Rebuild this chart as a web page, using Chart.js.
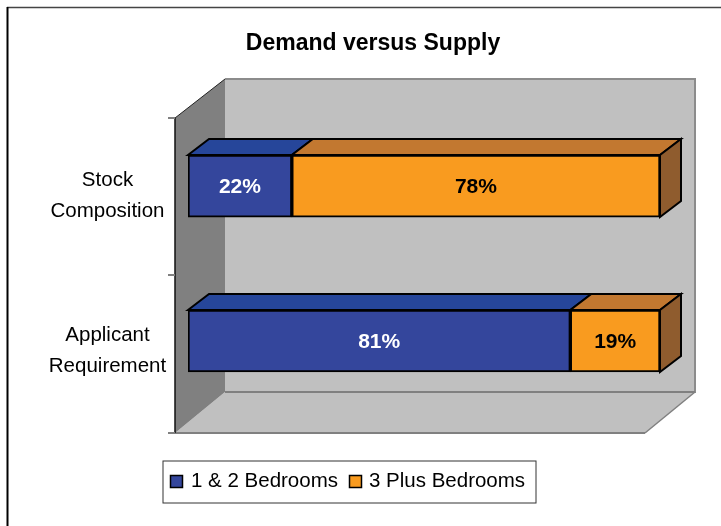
<!DOCTYPE html>
<html>
<head>
<meta charset="utf-8">
<style>
  html, body { margin: 0; padding: 0; background: #fff; }
  canvas { display: block; }
</style>
<script src="https://cdn.jsdelivr.net/npm/chart.js@4/dist/chart.umd.min.js"></script>
</head>
<body>
<canvas id="demandChart" width="721" height="526"></canvas>
<script>
const categories = [['Stock', 'Composition'], ['Applicant', 'Requirement']];
const smallBedrooms = [22, 81];
const largeBedrooms = [78, 19];
const seriesNames = ['1 & 2 Bedrooms', '3 Plus Bedrooms'];
const chartTitle = 'Demand versus Supply';

const FONT = '"Liberation Sans", Arial, sans-serif';
const DEPTH_X = 21, DEPTH_Y = 16;

function poly(ctx, pts, fill, stroke, lw) {
  ctx.beginPath();
  pts.forEach((p, i) => i ? ctx.lineTo(p[0], p[1]) : ctx.moveTo(p[0], p[1]));
  ctx.closePath();
  if (fill) { ctx.fillStyle = fill; ctx.fill(); }
  if (stroke) { ctx.strokeStyle = stroke; ctx.lineWidth = lw; ctx.stroke(); }
}

function line(ctx, x1, y1, x2, y2, color, lw) {
  ctx.beginPath();
  ctx.moveTo(x1, y1);
  ctx.lineTo(x2, y2);
  ctx.strokeStyle = color;
  ctx.lineWidth = lw;
  ctx.stroke();
}

// Walls, floor and the outer frame, behind the bars
const wallsPlugin = {
  id: 'walls',
  beforeDatasetsDraw(chart) {
    const ctx = chart.ctx;
    ctx.save();
    line(ctx, 7, 7.5, 721, 7.5, '#444444', 1.5);
    line(ctx, 7.5, 7, 7.5, 526, '#000000', 2);

    poly(ctx, [[225, 79], [695, 79], [695, 392], [225, 392]], '#c0c0c0');
    poly(ctx, [[175, 433], [225, 392], [695, 392], [645, 433]], '#c0c0c0');
    poly(ctx, [[175, 118], [225, 79], [225, 392], [175, 433]], '#808080');

    line(ctx, 225, 79, 695, 79, '#8c8c8c', 2);
    line(ctx, 695, 78, 695, 393, '#8c8c8c', 2);
    line(ctx, 225, 392, 695, 392, '#808080', 2);
    line(ctx, 175, 433, 645, 433, '#808080', 2);
    line(ctx, 645, 433, 695, 392, '#808080', 1.5);
    line(ctx, 175, 118, 225, 79, '#222222', 1);
    line(ctx, 175, 118, 175, 433, '#111111', 1.5);
    [118, 275, 433].forEach(y => line(ctx, 168, y, 175, y, '#808080', 2));

    // top and end faces of the bars
    const tops = ['#26469a', '#c27830'];
    chart.data.datasets.forEach((ds, i) => {
      chart.getDatasetMeta(i).data.forEach(bar => {
        const t = bar.y - bar.height / 2, b = bar.y + bar.height / 2;
        poly(ctx, [[bar.base, t], [bar.base + DEPTH_X, t - DEPTH_Y], [bar.x + DEPTH_X, t - DEPTH_Y], [bar.x, t]],
          tops[i], '#000000', 2);
        if (i === chart.data.datasets.length - 1) {
          poly(ctx, [[bar.x, t], [bar.x + DEPTH_X, t - DEPTH_Y], [bar.x + DEPTH_X, b - DEPTH_Y], [bar.x, b]],
            '#8f5c2e', '#000000', 2);
        }
      });
    });
    ctx.restore();
  },
  afterDatasetsDraw(chart) {
    const ctx = chart.ctx;
    ctx.save();
    ctx.textBaseline = 'middle';
    ctx.textAlign = 'center';

    // data labels
    ctx.font = 'bold 21px ' + FONT;
    chart.data.datasets.forEach((ds, i) => {
      chart.getDatasetMeta(i).data.forEach((bar, j) => {
        ctx.fillStyle = i === 0 ? '#ffffff' : '#000000';
        ctx.fillText(ds.data[j] + '%', (bar.base + bar.x) / 2, bar.y + 1);
      });
    });

    // category labels sit on the front plane, a little below the bars
    ctx.font = '20.5px ' + FONT;
    ctx.fillStyle = '#000000';
    const yScale = chart.scales.y;
    categories.forEach((lines, i) => {
      const cy = yScale.getPixelForTick(i) + 10;
      lines.forEach((txt, k) => ctx.fillText(txt, 107.5, cy + (k - 0.5) * 30.5));
    });

    // legend box
    ctx.fillStyle = '#ffffff';
    ctx.fillRect(163, 461, 373, 42);
    ctx.strokeStyle = '#333333';
    ctx.lineWidth = 1;
    ctx.strokeRect(163, 461, 373, 42);
    ctx.textAlign = 'left';
    [[170.5, 191], [349.5, 369]].forEach((pos, i) => {
      ctx.fillStyle = chart.data.datasets[i].backgroundColor;
      ctx.fillRect(pos[0], 475.5, 12, 12);
      ctx.strokeStyle = '#000000';
      ctx.lineWidth = 1.5;
      ctx.strokeRect(pos[0], 475.5, 12, 12);
      ctx.fillStyle = '#000000';
      ctx.fillText(seriesNames[i], pos[1], 481);
    });
    ctx.restore();
  }
};

new Chart(document.getElementById('demandChart'), {
  type: 'bar',
  data: {
    labels: categories,
    datasets: [
      { label: seriesNames[0], data: smallBedrooms, backgroundColor: '#34469c', borderColor: '#000000', borderWidth: 2, borderSkipped: false, barThickness: 62 },
      { label: seriesNames[1], data: largeBedrooms, backgroundColor: '#f99b1f', borderColor: '#000000', borderWidth: 2, borderSkipped: false, barThickness: 62 }
    ]
  },
  options: {
    indexAxis: 'y',
    responsive: false,
    animation: false,
    layout: { padding: { left: 86, right: 61, top: 0, bottom: 107.5 } },
    plugins: {
      legend: { display: false },
      tooltip: { enabled: false },
      title: {
        display: true,
        text: chartTitle,
        color: '#000000',
        font: { family: FONT, size: 23, weight: 'bold' },
        padding: { top: 30, bottom: 51 }
      }
    },
    scales: {
      x: { display: false, stacked: true, min: 0, max: 100 },
      y: {
        stacked: true,
        border: { display: false },
        grid: { display: false },
        ticks: { display: false },
        afterFit: function(scale) { scale.width = 102; }
      }
    }
  },
  plugins: [wallsPlugin]
});
</script>
</body>
</html>
